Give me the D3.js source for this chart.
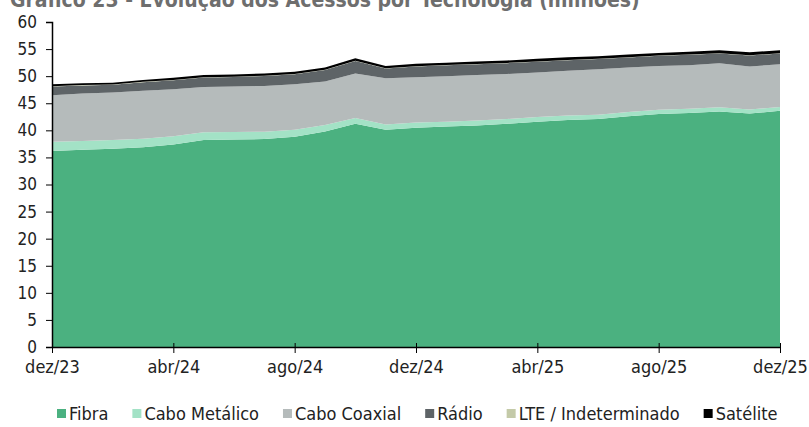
<!DOCTYPE html>
<html><head><meta charset="utf-8">
<script src="https://cdn.jsdelivr.net/npm/d3@7"></script>
<style>
html,body{margin:0;padding:0;background:#fff;}
svg{display:block;}
text{font-family:"Liberation Sans Narrow","DejaVu Sans Condensed","Arial Narrow",sans-serif;font-stretch:condensed;}
</style></head>
<body><svg id="c" width="809" height="427"></svg>
<script>
const months = ["dez/23","jan/24","fev/24","mar/24","abr/24","mai/24","jun/24","jul/24","ago/24","set/24","out/24","nov/24","dez/24","jan/25","fev/25","mar/25","abr/25","mai/25","jun/25","jul/25","ago/25","set/25","out/25","nov/25","dez/25"];
const tickLabels = ["dez/23","abr/24","ago/24","dez/24","abr/25","ago/25","dez/25"];
const yTicks = [0,5,10,15,20,25,30,35,40,45,50,55,60];
const seriesNames = ["Fibra","Cabo Metálico","Cabo Coaxial","Rádio","LTE / Indeterminado","Satélite"];
const seriesColors = ["#4bb180","#a3e2c6","#b5bbbb","#5e6467","#c4caa8","#000000"];
const fibra   = [36.2,36.4,36.6,36.9,37.4,38.2,38.3,38.4,38.8,39.8,41.2,40.1,40.5,40.7,40.9,41.2,41.6,41.9,42.1,42.6,43.0,43.2,43.5,43.1,43.6];
const metalico= [1.7,1.65,1.6,1.55,1.5,1.45,1.4,1.35,1.3,1.2,1.1,1.0,0.95,0.9,0.9,0.9,0.85,0.85,0.8,0.8,0.8,0.8,0.75,0.75,0.7];
const coaxial = [8.6,8.75,8.8,8.85,8.7,8.35,8.4,8.45,8.4,8.0,8.2,8.5,8.35,8.4,8.4,8.3,8.25,8.25,8.4,8.2,8.1,8.0,8.15,7.95,7.9];
const radio   = [1.6,1.5,1.4,1.6,1.65,1.75,1.75,1.85,1.85,2.15,2.3,1.8,2.0,2.0,2.0,2.0,1.95,1.95,1.85,1.85,1.85,1.95,1.8,2.0,2.0];
const lte     = [0.05,0.05,0.05,0.05,0.05,0.05,0.05,0.05,0.05,0.05,0.05,0.05,0.05,0.05,0.05,0.05,0.05,0.05,0.05,0.05,0.05,0.05,0.05,0.05,0.05];
const satelite= [0.35,0.35,0.35,0.35,0.4,0.4,0.4,0.4,0.4,0.4,0.45,0.45,0.45,0.45,0.45,0.45,0.5,0.5,0.5,0.5,0.5,0.5,0.55,0.55,0.55];
const seriesValues = [fibra,metalico,coaxial,radio,lte,satelite];

const svg = d3.select("#c");
const x = d3.scalePoint().domain(months).range([52,780]);
const y = d3.scaleLinear().domain([0,60]).range([347,22]);

const table = months.map((m,i)=>{const o={month:m};seriesNames.forEach((s,k)=>o[s]=seriesValues[k][i]);return o;});
const stack = d3.stack().keys(seriesNames)(table);
const area = d3.area().x(d=>x(d.data.month)).y0(d=>y(d[0])).y1(d=>y(d[1]));
svg.append("g").selectAll("path").data(stack).join("path")
  .attr("d",area).attr("fill",(d,i)=>seriesColors[i]);

// title (top partly outside the picture, as in the reference)
svg.append("text").attr("x",10).attr("y",7).attr("font-size",21).attr("font-weight","bold")
  .attr("fill","#6e6e6e").text("Gráfico 23 - Evolução dos Acessos por Tecnologia (milhões)");

// y axis
const ya = svg.append("g").attr("transform","translate(52,0)")
  .call(d3.axisLeft(y).tickValues(yTicks).tickSize(6).tickPadding(9).tickFormat(d3.format("d")));
ya.select(".domain").attr("stroke","#000").attr("stroke-width",1.5);
ya.selectAll("text").attr("font-size",17).attr("fill","#222").style("font-family",null);
ya.selectAll(".tick line").attr("stroke","#000");

// x axis
const xa = svg.append("g").attr("transform","translate(0,347)")
  .call(d3.axisBottom(x).tickValues(tickLabels).tickSize(6).tickPadding(6).tickSizeOuter(0));
xa.select(".domain").attr("stroke","#000").attr("stroke-width",1.5);
xa.selectAll(".tick line").attr("stroke","#000").attr("y1",-4);
xa.selectAll("text").attr("font-size",18).attr("fill","#222").attr("dy","0.75em").style("font-family",null);

// legend
const lg = svg.append("g").attr("transform","translate(0,414)");
let lx = 57;
seriesNames.forEach((s,i)=>{
  lg.append("rect").attr("x",lx).attr("y",-5).attr("width",9).attr("height",9).attr("fill",seriesColors[i]);
  const t = lg.append("text").attr("x",lx+12).attr("y",0).attr("dy","0.35em").attr("font-size",18).attr("fill","#222").text(s);
  lx += 12 + t.node().getComputedTextLength() + 24;
});
</script></body></html>
